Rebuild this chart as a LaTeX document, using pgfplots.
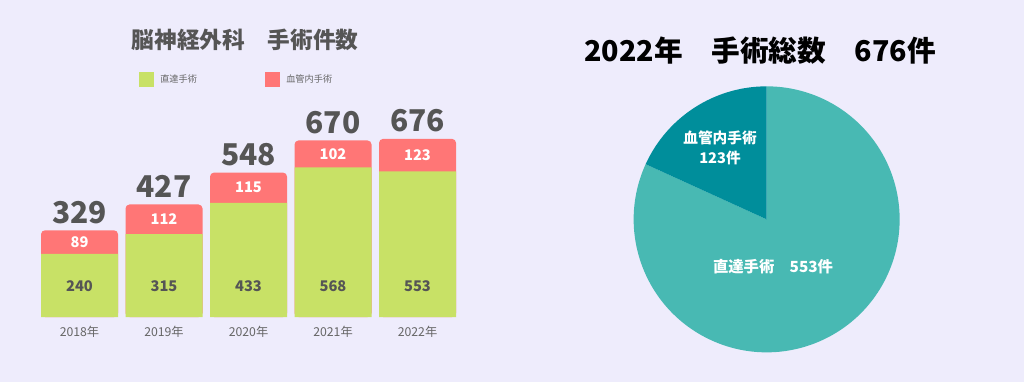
\documentclass[border=0pt]{standalone}
\usepackage{pgfplots}
\pgfplotsset{compat=1.18}
\usepackage{pgfplotstable}
\usepackage{fontspec}
\setmainfont{Noto Sans CJK JP}
\definecolor{bgc}{HTML}{EEECFC}
\definecolor{bargreen}{HTML}{C8E166}
\definecolor{barred}{HTML}{FF7676}
\definecolor{darkgray}{HTML}{555555}
\definecolor{tickgray}{HTML}{666666}
\definecolor{pielight}{HTML}{48B9B3}
\definecolor{piedark}{HTML}{008E9B}
\pgfplotstableread{
x green red total
0 240 89 329
1 315 112 427
2 433 115 548
3 568 102 670
4 553 123 676
}\bardata
\pgfplotstableread{
name value
直達手術 553
血管内手術 123
}\piedata
\begin{document}
\begin{tikzpicture}
\fill[bgc] (0pt,0pt) rectangle (768pt,286.5pt);
% bar chart title
\node[font=\bfseries\fontsize{17}{20}\selectfont, text=darkgray] at (183.75pt,256.5pt) {脳神経外科　手術件数};
% legend
\fill[bargreen] (104.25pt,221.25pt) rectangle (115.5pt,232.5pt);
\node[anchor=west, font=\fontsize{6.9}{8}\selectfont, text=tickgray, inner sep=0] at (120pt,226.9pt) {直達手術};
\fill[barred] (198.75pt,221.25pt) rectangle (210pt,232.5pt);
\node[anchor=west, font=\fontsize{6.9}{8}\selectfont, text=tickgray, inner sep=0] at (214.5pt,226.9pt) {血管内手術};
\begin{axis}[
  at={(27.94pt,48.75pt)}, anchor=south west,
  scale only axis, width=316.9pt, height=158.1pt,
  xmin=-0.5, xmax=4.5, ymin=0, ymax=800,
  ybar, bar width=57.75pt, bar shift=0pt,
  axis line style={draw=none}, major tick length=0pt,
  ytick=\empty,
  xtick={0,1,2,3,4},
  xticklabels={2018年,2019年,2020年,2021年,2022年},
  xticklabel style={font=\fontsize{9.2}{11}\selectfont, text=tickgray, anchor=center, yshift=-11pt},
  clip=false,
]
\addplot[fill=barred, draw=none, rounded corners=3pt,
  nodes near coords, point meta=explicit symbolic,
  every node near coord/.append style={anchor=base, yshift=5.25pt, font=\bfseries\fontsize{22.5}{24}\selectfont, text=darkgray}]
  table[x=x, y=total, meta=total] {\bardata};
\addplot[fill=bargreen, draw=none] table[x=x, y=green] {\bardata};
\addplot[fill=none, draw=none,
  nodes near coords, point meta=explicit symbolic,
  every node near coord/.append style={anchor=center, font=\bfseries\fontsize{11}{13}\selectfont, text=white}]
  table[x=x, y expr=\thisrow{green}+\thisrow{red}/2, meta=red] {\bardata};
\addplot[fill=none, draw=none,
  nodes near coords, point meta=explicit symbolic,
  every node near coord/.append style={anchor=center, font=\bfseries\fontsize{11}{13}\selectfont, text=darkgray}]
  table[x=x, y expr=118, meta=green] {\bardata};
\end{axis}
% pie chart
\pgfplotstablegetelem{0}{value}\of\piedata \let\va\pgfplotsretval
\pgfplotstablegetelem{1}{value}\of\piedata \let\vb\pgfplotsretval
\pgfmathsetmacro\angB{90+\vb/(\va+\vb)*360}
\node[font=\bfseries\fontsize{21.5}{24}\selectfont, text=black] at (570pt,248.5pt) {2022年　手術総数　676件};
\begin{axis}[
  at={(575pt,122pt)}, anchor=center,
  scale only axis, width=199.5pt, height=199.5pt,
  xmin=-1, xmax=1, ymin=-1, ymax=1, hide axis, clip=false,
]
\fill[pielight] (axis cs:0,0) -- ++(\angB:99.75pt) arc[start angle=\angB, end angle=450, radius=99.75pt] -- cycle;
\fill[piedark] (axis cs:0,0) -- ++(90:99.75pt) arc[start angle=90, end angle=\angB, radius=99.75pt] -- cycle;
\end{axis}
\node[align=center, text=white, font=\bfseries\fontsize{11}{15}\selectfont] at (540pt,175.5pt) {血管内手術\\123件};
\node[text=white, font=\bfseries\fontsize{11.5}{14}\selectfont] at (579.75pt,86.25pt) {直達手術　553件};
\pgfresetboundingbox
\path[use as bounding box] (0pt,0pt) rectangle (768pt,286.5pt);
\end{tikzpicture}
\end{document}
